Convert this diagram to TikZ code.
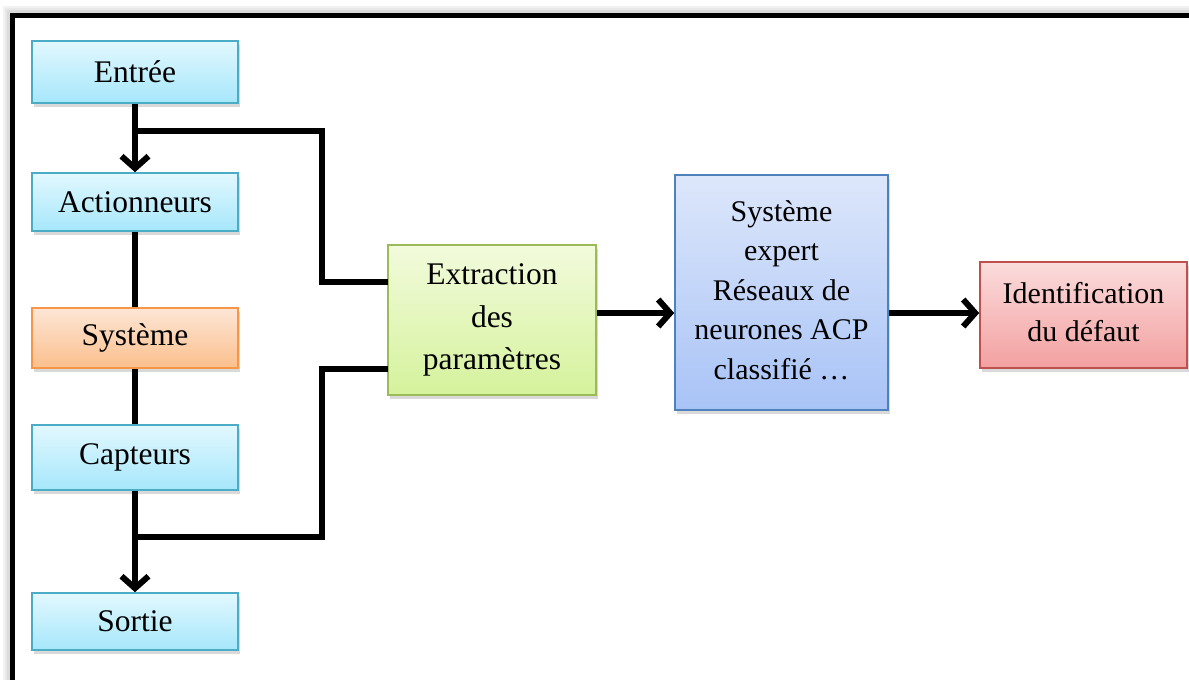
\documentclass[tikz,border=0pt]{standalone}
\usepackage{fontspec}
\setmainfont{Liberation Serif}
\usetikzlibrary{arrows.meta,shadows,calc}
\definecolor{cyanT}{HTML}{E2F8FE}
\definecolor{cyanB}{HTML}{A6E7FB}
\definecolor{cyanD}{HTML}{4BACC6}
\definecolor{orT}{HTML}{FDE6D6}
\definecolor{orB}{HTML}{FBBF8C}
\definecolor{orD}{HTML}{F79646}
\definecolor{grT}{HTML}{F2FBDC}
\definecolor{grB}{HTML}{D5F29C}
\definecolor{grD}{HTML}{9BBB59}
\definecolor{blT}{HTML}{DDE7FB}
\definecolor{blB}{HTML}{A8C3F6}
\definecolor{blD}{HTML}{4F81BD}
\definecolor{rdT}{HTML}{FBDCDC}
\definecolor{rdB}{HTML}{F3A0A0}
\definecolor{rdD}{HTML}{C0504D}
\tikzset{
  box/.style={rectangle, line width=1.6pt, align=center, inner sep=0pt,
    font=\fontsize{31.5}{42.5}\selectfont,
    drop shadow={opacity=0.3, shadow xshift=2pt, shadow yshift=-4pt}},
  cyanbox/.style={box, draw=cyanD, top color=cyanT, bottom color=cyanB},
  orbox/.style={box, draw=orD, top color=orT, bottom color=orB},
  grbox/.style={box, draw=grD, top color=grT, bottom color=grB},
  blbox/.style={box, draw=blD, top color=blT, bottom color=blB},
  rdbox/.style={box, draw=rdD, top color=rdT, bottom color=rdB},
  ln/.style={line width=6pt, black},
  arr/.style={ln, -{Straight Barb[length=12pt,width=27pt,line width=6pt]}},
}
\begin{document}
\begin{tikzpicture}[x=1pt,y=-1pt]
\useasboundingbox (0,0) rectangle (1189,680);
% frame with soft shadow
\foreach \o/\c in {8/5,6/9,4/14}{
  \draw[line width=3pt, black!\c] (12-\o,680) -- (12-\o,15-\o) -- (1189,15-\o);
}
\draw[line width=5pt, black] (12,680) -- (12,15) -- (1189,15);
% nodes
\node[cyanbox, minimum width=206, minimum height=62] (entree) at (135,72) {Entrée};
\node[cyanbox, minimum width=206, minimum height=58] (act) at (135,202) {Actionneurs};
\node[orbox, minimum width=206, minimum height=60] (sys) at (135,338) {Système};
\node[cyanbox, minimum width=206, minimum height=65] (capt) at (135,457.5) {Capteurs};
\node[cyanbox, minimum width=206, minimum height=57] (sortie) at (135,621.5) {Sortie};
\node[grbox, minimum width=208, minimum height=150] (extr) at (492,320) {Extraction\\des\\paramètres};
\node[blbox, minimum width=213, minimum height=235, font=\fontsize{30}{39.5}\selectfont] (exp) at (781.5,292.5)
  {\raisebox{8pt}{\begin{tabular}{@{}c@{}}Système\\expert\\Réseaux de\\neurones ACP\\classifié …\end{tabular}}};
\node[rdbox, minimum width=207, minimum height=106, font=\fontsize{30}{38.5}\selectfont] (ident) at (1083.5,315)
  {\raisebox{4pt}{\begin{tabular}{@{}c@{}}Identification\\du défaut\end{tabular}}};
% coordinates
\coordinate (b1) at (135,131);
\coordinate (c1) at (322,131);
\coordinate (e1) at (388,282);
\coordinate (b2) at (135,537);
\coordinate (c2) at (322,537);
\coordinate (e2) at (388,369);
\coordinate (h) at (0,313);
% connectors
\draw[arr] (entree) -- (act);
\draw[ln] (act) -- (sys);
\draw[ln] (sys) -- (capt);
\draw[arr] (capt) -- (sortie);
\draw[ln, line join=miter] (b1) -- (c1) |- (e1);
\draw[ln, line join=miter] (b2) -- (c2) |- (e2);
\draw[arr] (extr.east |- h) -- (exp.west |- h);
\draw[arr] (exp.east |- h) -- (ident.west |- h);
\end{tikzpicture}
\end{document}
